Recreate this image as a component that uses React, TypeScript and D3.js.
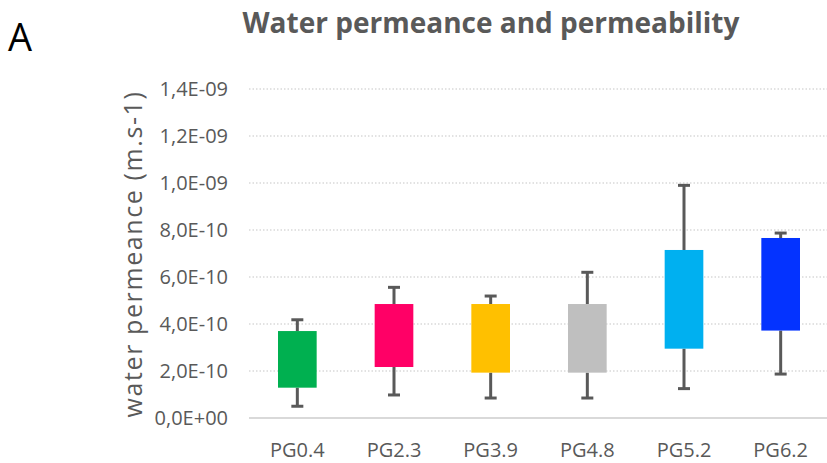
import React from "react";
import * as d3 from "d3";

const categories = ["PG0.4", "PG2.3", "PG3.9", "PG4.8", "PG5.2", "PG6.2"];
const boxLow = [1.29e-10, 2.17e-10, 1.93e-10, 1.93e-10, 2.95e-10, 3.72e-10];
const boxHigh = [3.7e-10, 4.85e-10, 4.85e-10, 4.85e-10, 7.15e-10, 7.66e-10];
const whiskerLow = [0.5e-10, 0.98e-10, 0.85e-10, 0.85e-10, 1.25e-10, 1.87e-10];
const whiskerHigh = [4.18e-10, 5.56e-10, 5.19e-10, 6.2e-10, 9.9e-10, 7.87e-10];
const barColors = ["#00B050", "#FF0066", "#FFC000", "#BFBFBF", "#00B0F0", "#0433FF"];
const yTicks = [0, 2e-10, 4e-10, 6e-10, 8e-10, 1e-9, 1.2e-9, 1.4e-9];

const W = 827;
const H = 463;
const FONT = "'Open Sans', 'Noto Sans', sans-serif";
const GRAY = "#595959";

function fmtSci(v: number): string {
  if (v === 0) return "0,0E+00";
  const e = Math.floor(Math.log10(Math.abs(v)) + 1e-9);
  const m = v / Math.pow(10, e);
  const sign = e < 0 ? "-" : "+";
  const ee = String(Math.abs(e)).padStart(2, "0");
  return m.toFixed(1).replace(".", ",") + "E" + sign + ee;
}

export default function App() {
  const x = d3
    .scaleBand<string>()
    .domain(categories)
    .range([249, 829])
    .paddingInner(0.6)
    .paddingOuter(0.3);
  const y = d3.scaleLinear().domain([0, 1.4e-9]).range([418, 89]);
  const bw = x.bandwidth();
  const capW = 12;

  return (
    <svg
      width={W}
      height={H}
      style={{ position: "absolute", left: 0, top: 0, background: "#fff" }}
    >
      <rect x={0} y={0} width={W} height={H} fill="#fff" />
      <text x={8} y={51} fontFamily={FONT} fontSize={38} fill="#000">
        A
      </text>
      <text
        x={491}
        y={33}
        textAnchor="middle"
        fontFamily={FONT}
        fontWeight="bold"
        fontSize={28}
        fill={GRAY}
      >
        Water permeance and permeability
      </text>

      {yTicks.map((t, i) =>
        t === 0 ? null : (
          <line
            key={"g" + i}
            x1={249}
            x2={W}
            y1={y(t)}
            y2={y(t)}
            stroke="#D9D9D9"
            strokeWidth={1.5}
            strokeDasharray="1.5 2"
          />
        )
      )}
      {yTicks.map((t, i) => (
        <text
          key={"t" + i}
          x={228}
          y={y(t)}
          dy="0.36em"
          textAnchor="end"
          fontFamily={FONT}
          fontSize={20}
          fill={GRAY}
        >
          {fmtSci(t)}
        </text>
      ))}
      <text
        transform={`translate(142,254) rotate(-90)`}
        textAnchor="middle"
        fontFamily={FONT}
        fontSize={25}
        letterSpacing={1.6}
        fill={GRAY}
      >
        water permeance (m.s-1)
      </text>

      {categories.map((c, i) => {
        const cx = (x(c) as number) + bw / 2;
        return (
          <g key={c}>
            <line
              x1={cx}
              x2={cx}
              y1={y(boxHigh[i])}
              y2={y(whiskerHigh[i])}
              stroke={GRAY}
              strokeWidth={3}
            />
            <line
              x1={cx - capW / 2}
              x2={cx + capW / 2}
              y1={y(whiskerHigh[i])}
              y2={y(whiskerHigh[i])}
              stroke={GRAY}
              strokeWidth={3}
            />
            <line
              x1={cx}
              x2={cx}
              y1={y(boxLow[i])}
              y2={y(whiskerLow[i])}
              stroke={GRAY}
              strokeWidth={3}
            />
            <line
              x1={cx - capW / 2}
              x2={cx + capW / 2}
              y1={y(whiskerLow[i])}
              y2={y(whiskerLow[i])}
              stroke={GRAY}
              strokeWidth={3}
            />
            <rect
              x={x(c)}
              y={y(boxHigh[i])}
              width={bw}
              height={y(boxLow[i]) - y(boxHigh[i])}
              fill={barColors[i]}
            />
            <text
              x={cx}
              y={457}
              textAnchor="middle"
              fontFamily={FONT}
              fontSize={20}
              fill={GRAY}
            >
              {c}
            </text>
          </g>
        );
      })}
      <line x1={249} x2={W} y1={418} y2={418} stroke="#D9D9D9" strokeWidth={2} />
    </svg>
  );
}
